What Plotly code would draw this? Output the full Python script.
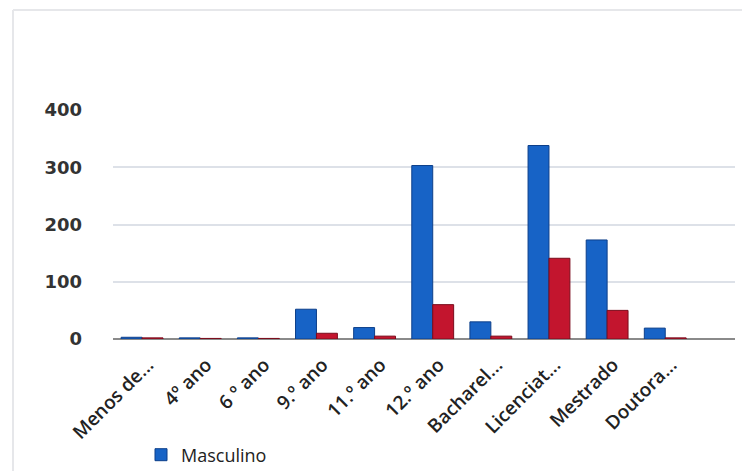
import plotly.graph_objects as go

# Education level categories (truncated as shown on the axis)
niveis = ["Menos de...", "4º ano", "6 º ano", "9.º ano", "11.º ano",
          "12.º ano", "Bacharel...", "Licenciat...", "Mestrado", "Doutora..."]
masculino = [3, 2, 2, 52, 20, 303, 30, 338, 173, 19]
feminino = [2, 1, 1, 10, 5, 60, 5, 141, 50, 2]
y_ticks = [0, 100, 200, 300, 400]

W, H = 742, 471
L, R, T, B = 113, 7, 110, 132

fig = go.Figure()
fig.add_trace(go.Bar(
    x=niveis, y=masculino, name="Masculino",
    marker=dict(color="#1763c6", line=dict(color="#0d3f8a", width=1)),
))
fig.add_trace(go.Bar(
    x=niveis, y=feminino, name="Feminino", showlegend=False,
    marker=dict(color="#c3152e", line=dict(color="#7a0c1c", width=1)),
))

pw = W - L - R
ph = H - T - B
# light frame around the chart area (left and top edges)
fig.add_shape(type="line", xref="paper", yref="paper",
              x0=(13 - L) / pw, x1=(13 - L) / pw,
              y0=(H - B - 471) / ph, y1=(H - B - 10) / ph,
              line=dict(color="#e6e7ea", width=2))
fig.add_shape(type="line", xref="paper", yref="paper",
              x0=(13 - L) / pw, x1=(W - L) / pw,
              y0=(H - B - 10) / ph, y1=(H - B - 10) / ph,
              line=dict(color="#e6e7ea", width=2))

fig.update_layout(
    width=W, height=H,
    margin=dict(l=L, r=R, t=T, b=B, autoexpand=False),
    paper_bgcolor="white", plot_bgcolor="white",
    barmode="group", bargap=0.28, bargroupgap=0.0,
    font=dict(family="Open Sans", color="#2a2a2a"),
    showlegend=True,
    legend=dict(orientation="h", x=(141 - L) / pw, xanchor="left",
                y=(H - B - 455) / ph, yanchor="middle",
                font=dict(size=18, color="#222"),
                itemwidth=30, bgcolor="rgba(0,0,0,0)"),
    xaxis=dict(
        type="category", categoryorder="array", categoryarray=niveis,
        range=[-0.5, 10.2], automargin=False,
        tickangle=-45, tickfont=dict(size=19, color="#222", weight=600),
        showgrid=False, showline=False, ticks="",
        ticklabelshift=6, ticklabelstandoff=10,
    ),
    yaxis=dict(
        range=[0, 400], tickvals=y_ticks, automargin=False,
        tickfont=dict(family="DejaVu Sans", size=18, color="#333", weight="bold"),
        showgrid=True, gridcolor="#dde1e8", gridwidth=2,
        zeroline=True, zerolinecolor="#8a8a8a", zerolinewidth=2,
        showline=False, ticks="", ticklabelstandoff=30,
    ),
)

fig.write_html("out.html")
